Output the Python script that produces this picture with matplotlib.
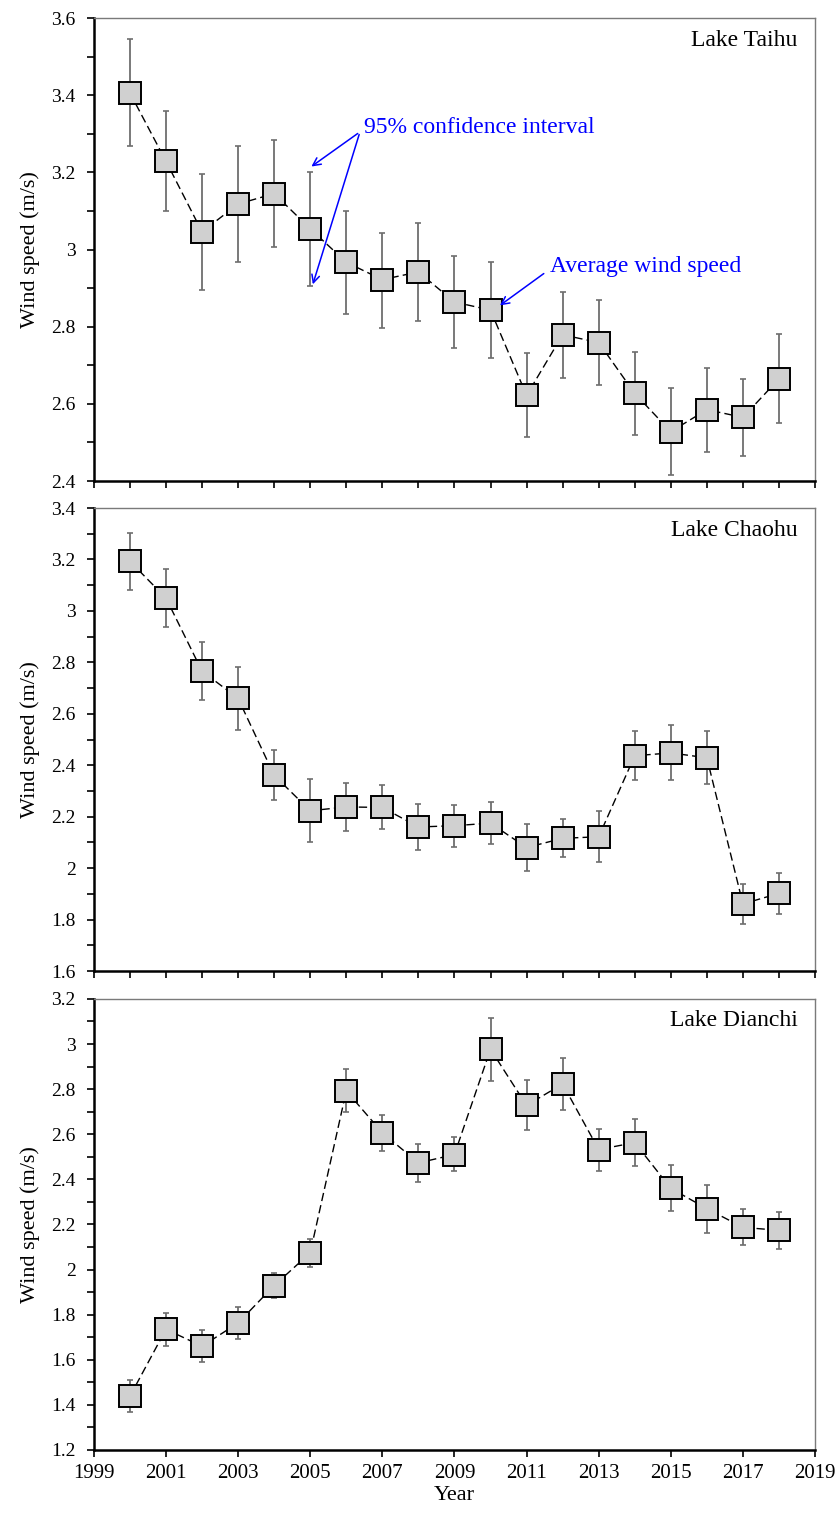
import numpy as np
import matplotlib
matplotlib.use('Agg')
import matplotlib.pyplot as plt
from matplotlib.ticker import MultipleLocator

plt.rcParams['font.family'] = ['Liberation Serif', 'DejaVu Serif']

years = list(range(2000, 2019))

# Lake Taihu
taihu_mean = [3.406, 3.229, 3.046, 3.118, 3.145, 3.054, 2.967, 2.922, 2.942, 2.864,
              2.843, 2.622, 2.779, 2.759, 2.627, 2.528, 2.585, 2.565, 2.665]
taihu_lo = [3.268, 3.101, 2.896, 2.968, 3.006, 2.905, 2.834, 2.797, 2.816, 2.745,
            2.720, 2.513, 2.668, 2.649, 2.520, 2.416, 2.476, 2.466, 2.550]
taihu_hi = [3.546, 3.359, 3.197, 3.268, 3.283, 3.202, 3.101, 3.044, 3.068, 2.983,
            2.967, 2.732, 2.891, 2.870, 2.735, 2.640, 2.694, 2.665, 2.780]

# Lake Chaohu
chaohu_mean = [3.193, 3.050, 2.766, 2.660, 2.361, 2.223, 2.238, 2.236, 2.160, 2.165,
               2.175, 2.080, 2.116, 2.122, 2.437, 2.448, 2.429, 1.861, 1.902]
chaohu_lo = [3.081, 2.939, 2.654, 2.538, 2.265, 2.102, 2.143, 2.152, 2.072, 2.083,
             2.092, 1.989, 2.043, 2.025, 2.341, 2.341, 2.326, 1.782, 1.823]
chaohu_hi = [3.304, 3.162, 2.879, 2.782, 2.458, 2.345, 2.331, 2.322, 2.248, 2.247,
             2.258, 2.172, 2.190, 2.222, 2.534, 2.555, 2.534, 1.940, 1.980]

# Lake Dianchi
dianchi_mean = [1.438, 1.735, 1.660, 1.763, 1.929, 2.074, 2.792, 2.607, 2.473, 2.510,
                2.977, 2.728, 2.823, 2.532, 2.563, 2.360, 2.270, 2.187, 2.174]
dianchi_lo = [1.369, 1.663, 1.590, 1.694, 1.873, 2.010, 2.697, 2.524, 2.387, 2.436,
              2.836, 2.618, 2.708, 2.437, 2.459, 2.258, 2.164, 2.109, 2.093]
dianchi_hi = [1.510, 1.808, 1.732, 1.836, 1.983, 2.137, 2.888, 2.687, 2.555, 2.587,
              3.117, 2.839, 2.937, 2.625, 2.668, 2.465, 2.377, 2.267, 2.256]

lakes = ['Lake Taihu', 'Lake Chaohu', 'Lake Dianchi']
means = [taihu_mean, chaohu_mean, dianchi_mean]
lows = [taihu_lo, chaohu_lo, dianchi_lo]
highs = [taihu_hi, chaohu_hi, dianchi_hi]
ylims = [(2.4, 3.6), (1.6, 3.4), (1.2, 3.2)]

fig = plt.figure(figsize=(8.38, 15.17), dpi=100)
rects = [(0.112, 0.6829, 0.8606, 0.3052),
         (0.112, 0.3599, 0.8606, 0.3052),
         (0.112, 0.0442, 0.8606, 0.2973)]

axes = []
for i in range(3):
    ax = fig.add_axes(rects[i])
    m = np.array(means[i])
    lo = m - np.array(lows[i])
    hi = np.array(highs[i]) - m
    ax.errorbar(years, m, yerr=[lo, hi], fmt='none', ecolor='#6e6e6e',
                elinewidth=1.3, capsize=2.5, capthick=1.2, zorder=1)
    ax.plot(years, m, color='black', lw=1.0, dashes=(6, 3), zorder=2)
    ax.plot(years, m, 's', ms=16, mfc='#d0d0d0', mec='black', mew=1.4, zorder=3)

    ax.set_xlim(1999, 2019)
    ax.set_ylim(*ylims[i])
    ax.yaxis.set_major_locator(MultipleLocator(0.2))
    ax.yaxis.set_minor_locator(MultipleLocator(0.1))
    ax.set_yticklabels([('%g' % v) for v in ax.get_yticks()])
    ax.tick_params(axis='y', which='both', direction='out', length=5, width=1.2,
                   labelsize=14, pad=8)
    ax.set_ylabel('Wind speed (m/s)', fontsize=16, labelpad=8)

    if i < 2:
        ax.set_xticks(range(1999, 2020))
        ax.tick_params(axis='x', direction='out', length=5, width=1.2, labelbottom=False)
    else:
        ax.set_xticks(range(1999, 2020, 2))
        ax.tick_params(axis='x', direction='out', length=5, width=1.2, labelsize=15, pad=5)
        ax.set_xlabel('Year', fontsize=16, labelpad=2)

    ax.spines['left'].set_linewidth(1.8)
    ax.spines['bottom'].set_linewidth(1.8)
    ax.spines['top'].set_color('#7a7a7a')
    ax.spines['right'].set_color('#7a7a7a')
    ax.spines['top'].set_linewidth(1.0)
    ax.spines['right'].set_linewidth(1.0)

    ax.text(0.976, 0.952, lakes[i], transform=ax.transAxes, ha='right', va='center',
            fontsize=17)
    axes.append(ax)

# annotations on top panel
ax = axes[0]
ax.text(2006.5, 3.316, '95% confidence interval', color='blue', fontsize=17,
        ha='left', va='center')
for tip in [(2004.97, 3.211), (2005.05, 2.903)]:
    ax.annotate('', xy=tip, xytext=(2006.38, 3.305),
                arrowprops=dict(arrowstyle='->', color='blue', lw=1.1,
                                mutation_scale=14))
ax.text(2011.65, 2.956, 'Average wind speed', color='blue', fontsize=17,
        ha='left', va='center')
ax.annotate('', xy=(2010.2, 2.851), xytext=(2011.54, 2.942),
            arrowprops=dict(arrowstyle='->', color='blue', lw=1.1, mutation_scale=14))

plt.savefig('out.png', dpi=100)
